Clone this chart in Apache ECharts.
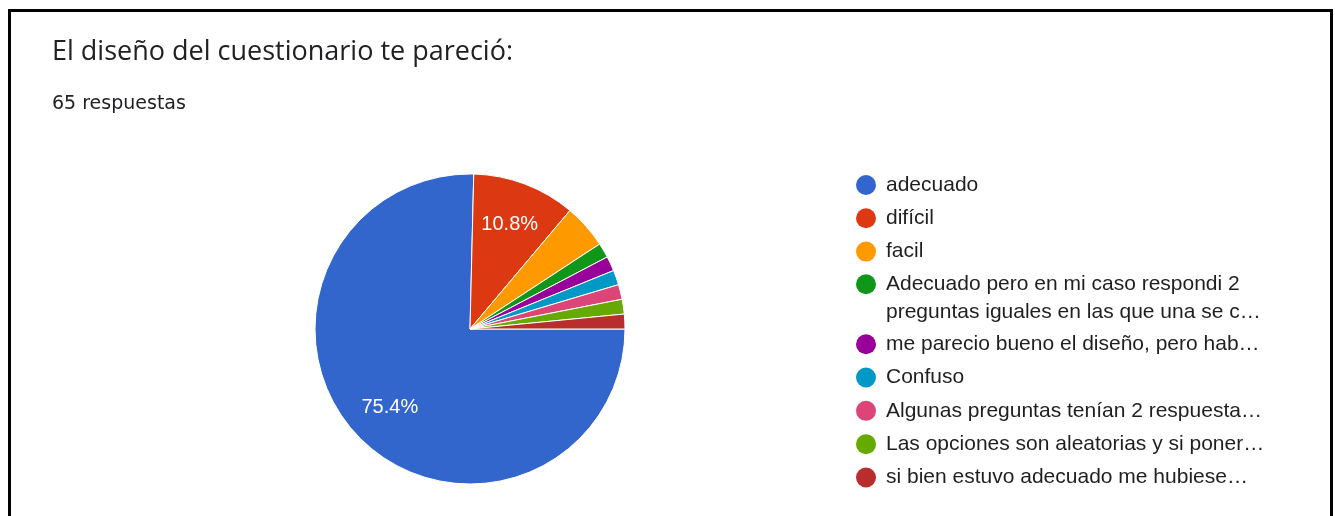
<!DOCTYPE html>
<html>
<head>
<meta charset="utf-8">
<script src="https://cdn.jsdelivr.net/npm/echarts@6/dist/echarts.min.js"></script>
<style>
html,body{margin:0;padding:0;background:#fff;}
#wrap{position:relative;width:1335px;height:516px;overflow:hidden;background:#fff;}
#chart{position:absolute;left:0;top:0;width:1335px;height:516px;}
#frame{position:absolute;left:8px;top:9px;width:1319px;height:600px;border:3px solid #000;border-bottom:none;pointer-events:none;}
</style>
</head>
<body>
<div id="wrap">
  <div id="chart"></div>
  <div id="frame"></div>
</div>
<script>
// ---- data ----
const chartTitle = "El diseño del cuestionario te pareció:";
const chartSubtitle = "65 respuestas";
const categories = [
  "adecuado",
  "difícil",
  "facil",
  "Adecuado pero en mi caso respondi 2 preguntas iguales en las que una se c…",
  "me parecio bueno el diseño, pero hab…",
  "Confuso",
  "Algunas preguntas tenían 2 respuesta…",
  "Las opciones son aleatorias y si poner…",
  "si bien estuvo adecuado me hubiese…"
];
const responses = [49, 7, 3, 1, 1, 1, 1, 1, 1];
const sliceColors = ["#3366cc", "#dc3912", "#ff9900", "#109618", "#990099", "#0099c6", "#dd4477", "#66aa00", "#b82e2e"];

// ---- build ----
const pieData = categories.map((name, i) => ({
  name: name,
  value: responses[i],
  itemStyle: { color: sliceColors[i] }
}));
const labelData = categories.map((name, i) => ({ name: name, value: responses[i] }));

const chart = echarts.init(document.getElementById('chart'), null, { renderer: 'canvas' });

const legendBase = {
  orient: 'vertical',
  left: 856,
  padding: 0,
  itemWidth: 30,
  itemHeight: 20,
  itemGap: 5.8,
  icon: 'circle',
  selectedMode: false,
  itemStyle: { borderWidth: 0 },
  textStyle: { fontFamily: 'Liberation Sans', fontSize: 21, color: '#1f1f1f', lineHeight: 27.5 }
};

const option = {
  animation: false,
  backgroundColor: 'transparent',
  title: {
    text: chartTitle,
    subtext: chartSubtitle,
    left: 52,
    top: 36,
    padding: 0,
    itemGap: 25.5,
    textStyle: { fontFamily: 'Open Sans', fontSize: 27, fontWeight: 'normal', color: '#202124', lineHeight: 32 },
    subtextStyle: { fontFamily: 'DejaVu Sans', fontSize: 19, color: '#202124', lineHeight: 22 }
  },
  legend: [
    Object.assign({}, legendBase, { top: 171.25, data: categories.slice(0, 3) }),
    Object.assign({}, legendBase, {
      top: 243,
      data: categories.slice(3, 4),
      formatter: function (n) { return '\n' + n.replace('respondi 2 ', 'respondi 2\n'); }
    }),
    Object.assign({}, legendBase, { top: 330.5, data: categories.slice(4) })
  ],
  series: [
    {
      type: 'pie',
      center: [470, 329],
      radius: 155,
      startAngle: 0,
      clockwise: true,
      data: pieData,
      itemStyle: { borderColor: '#ffffff', borderWidth: 1 },
      label: { show: false },
      labelLine: { show: false },
      emphasis: { disabled: true },
      silent: true
    },
    {
      type: 'pie',
      center: [470, 329],
      radius: [0, 218],
      startAngle: 0,
      clockwise: true,
      data: labelData,
      itemStyle: { color: 'rgba(0,0,0,0)', borderWidth: 0 },
      label: {
        show: true,
        position: 'inside',
        color: '#ffffff',
        fontFamily: 'Liberation Sans',
        fontSize: 20,
        formatter: function (p) { return p.percent >= 5 ? p.percent.toFixed(1) + '%' : ''; }
      },
      labelLine: { show: false },
      emphasis: { disabled: true },
      silent: true
    }
  ]
};
chart.setOption(option);
</script>
</body>
</html>
